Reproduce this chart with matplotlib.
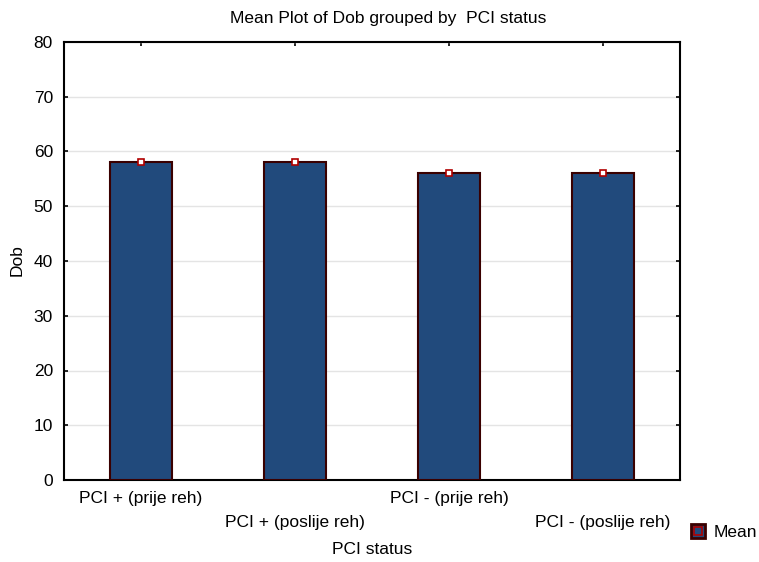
import numpy as np
import matplotlib.pyplot as plt
from matplotlib.lines import Line2D

plt.rcParams['font.family'] = ['Liberation Sans', 'DejaVu Sans']

groups = ['PCI + (prije reh)', 'PCI + (poslije reh)', 'PCI - (prije reh)', 'PCI - (poslije reh)']
means = [58.0, 58.0, 56.0, 56.0]
y_ticks = [0, 10, 20, 30, 40, 50, 60, 70, 80]

bar_fill = '#214A7C'
bar_edge = '#3A0000'
mark_col = '#B00000'
fs = 12.5

fig = plt.figure(figsize=(7.59, 5.62), dpi=100)
ax = fig.add_axes([64/759, 82/562, 616/759, 438/562])

x = np.arange(len(groups))
ax.bar(x, means, width=0.4, color=bar_fill, edgecolor=bar_edge, linewidth=1.5, zorder=3)
ax.plot(x, means, linestyle='none', marker='s', markersize=5, markerfacecolor='white',
        markeredgecolor=mark_col, markeredgewidth=1.2, zorder=4)

ax.set_xlim(-0.5, len(groups) - 0.5)
ax.set_ylim(0, 80)
ax.set_yticks(y_ticks)
ax.set_xticks(x)
ax.set_xticklabels(['' for g in groups])
# etiquettes en quinconce
for i, g in enumerate(groups):
    yc = -18 if i % 2 == 0 else -43
    ax.annotate(g, (i, 0), xycoords=('data', 'axes fraction'), xytext=(0, yc),
                textcoords='offset pixels', ha='center', va='center', fontsize=fs)

ax.grid(axis='y', color='#E4E4E4', linewidth=1, zorder=0)
ax.tick_params(direction='in', length=3, width=1.2, top=True, right=True, labelsize=fs)
ax.tick_params(axis='y', pad=8)
for s in ax.spines.values():
    s.set_linewidth(1.5)

fig.text(17/759, 1 - 260/562, 'Dob', rotation=90, ha='center', va='center', fontsize=fs)
fig.text(388/759, 1 - 19/562, 'Mean Plot of Dob grouped by  PCI status', ha='center', va='center', fontsize=fs)
fig.text(372/759, 1 - 549/562, 'PCI status', ha='center', va='center', fontsize=fs)

h1 = Line2D([], [], linestyle='none', marker='s', markersize=10.5, markerfacecolor=bar_fill,
            markeredgecolor=bar_edge, markeredgewidth=2)
h2 = Line2D([], [], linestyle='none', marker='s', markersize=5.5, markerfacecolor='none',
            markeredgecolor=mark_col, markeredgewidth=1.2)
fig.legend([(h1, h2)], ['Mean'], loc='center left', bbox_to_anchor=(689/759, 1 - 532/562),
           frameon=False, fontsize=fs, handlelength=1.0, handletextpad=0.4, borderpad=0,
           borderaxespad=0)

fig.savefig('out.png', dpi=100)
